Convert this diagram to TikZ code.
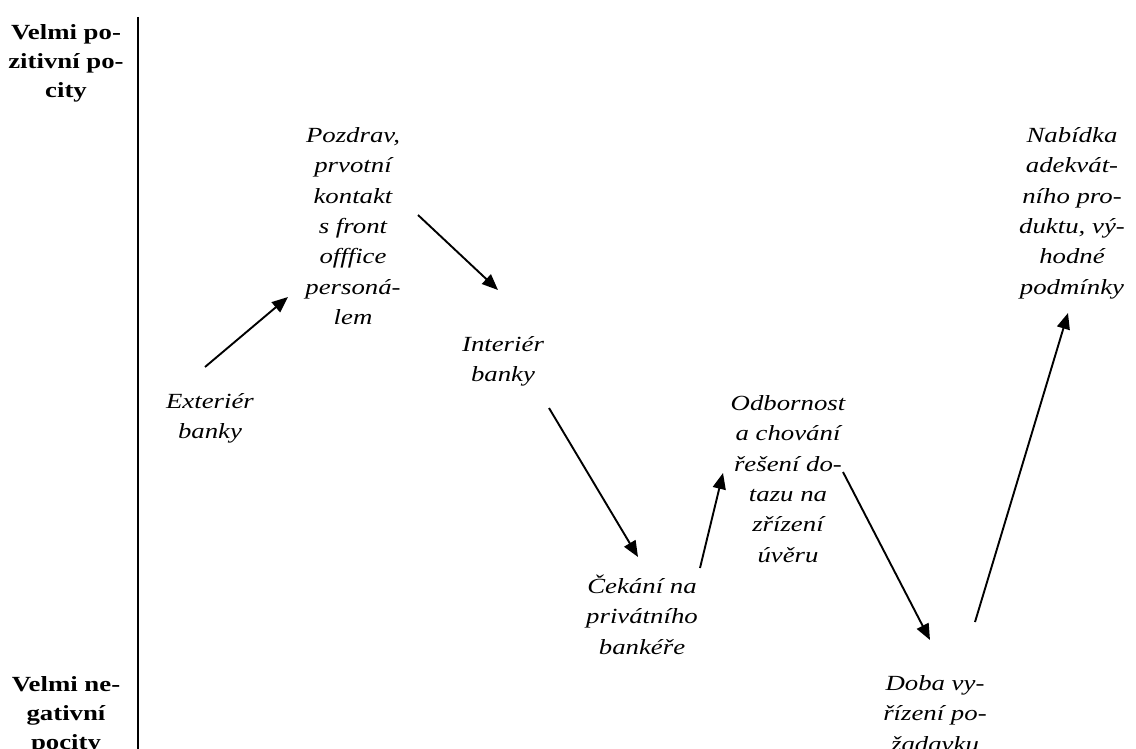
\documentclass[tikz,border=0pt]{standalone}
\usepackage{fontspec}
\setmainfont{Liberation Serif}[FakeStretch=1.24]
\usetikzlibrary{arrows.meta}
\tikzset{
  lbl/.style={inner sep=0pt, anchor=north, align=center,
    font=\fontsize{21.6}{30.4}\selectfont\itshape},
  axlbl/.style={inner sep=0pt, anchor=north, align=center,
    font=\fontsize{21.6}{29}\selectfont\bfseries},
  arr/.style={line width=1.9pt, -{Triangle[length=16pt,width=13pt]}},
  axis/.style={line width=2pt}
}
\newcommand{\fl}{\rule{0pt}{20pt}}
\begin{document}
\begin{tikzpicture}[x=1pt,y=-1pt]
\useasboundingbox (0,0) rectangle (1136,749);
% axis
\coordinate (axtop) at (138,17);
\coordinate (axbot) at (138,749);
\draw[axis] (axtop) -- (axbot);
% axis labels
\node[axlbl] (pos) at (66,19) {\fl Velmi po-\\zitivní po-\\city};
\node[axlbl] (neg) at (66,671) {\fl Velmi ne-\\gativní\\pocity};
% stage labels
\node[lbl] (ext) at (210,388) {\fl Exteriér\\banky};
\node[lbl] (poz) at (353,122) {\fl Pozdrav,\\prvotní\\kontakt\\s front\\offfice\\personá-\\lem};
\node[lbl] (int) at (503,331) {\fl Interiér\\banky};
\node[lbl] (cek) at (642,573) {\fl Čekání na\\privátního\\bankéře};
\node[lbl] (odb) at (788,390) {\fl Odbornost\\a chování\\řešení do-\\tazu na\\zřízení\\úvěru};
\node[lbl] (dob) at (935,670) {\fl Doba vy-\\řízení po-\\žadavku};
\node[lbl] (nab) at (1072,122) {\fl Nabídka\\adekvát-\\ního pro-\\duktu, vý-\\hodné\\podmínky};
% arrow end points
\coordinate (a1s) at (205,367); \coordinate (a1e) at (288,297);
\coordinate (a2s) at (418,215); \coordinate (a2e) at (498,290);
\coordinate (a3s) at (549,408); \coordinate (a3e) at (638,557);
\coordinate (a4s) at (700,568); \coordinate (a4e) at (723,473);
\coordinate (a5s) at (843,472); \coordinate (a5e) at (930,640);
\coordinate (a6s) at (975,622); \coordinate (a6e) at (1068,313);
\draw[arr] (a1s) -- (a1e);
\draw[arr] (a2s) -- (a2e);
\draw[arr] (a3s) -- (a3e);
\draw[arr] (a4s) -- (a4e);
\draw[arr] (a5s) -- (a5e);
\draw[arr] (a6s) -- (a6e);
\end{tikzpicture}
\end{document}
